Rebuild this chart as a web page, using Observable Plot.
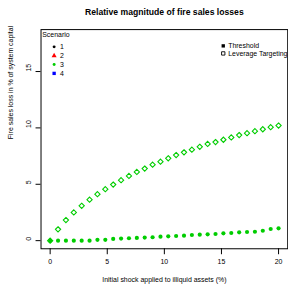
<!DOCTYPE html>
<html>
<head>
<meta charset="utf-8">
<script src="https://cdn.jsdelivr.net/npm/d3@7"></script>
<script src="https://cdn.jsdelivr.net/npm/@observablehq/plot@0.6"></script>
<style>
  html, body { margin: 0; padding: 0; background: #fff; overflow: hidden; }
  #chart { width: 288px; height: 286px; overflow: hidden; }
  svg { font-family: "Liberation Sans", Arial, Helvetica, sans-serif; }
</style>
</head>
<body>
<div id="chart"></div>
<script>
const title = "Relative magnitude of fire sales losses";
const xLabel = "Initial shock applied to illiquid assets (%)";
const yLabel = "Fire sales loss in % of system capital";
const xTicks = [0, 5, 10, 15, 20];
const yTicks = [0, 5, 10, 15];

const shock = [0, 0.69, 1.38, 2.07, 2.76, 3.45, 4.14, 4.83, 5.52, 6.21, 6.90, 7.59, 8.28, 8.97, 9.66,
  10.34, 11.03, 11.72, 12.41, 13.10, 13.79, 14.48, 15.17, 15.86, 16.55, 17.24, 17.93, 18.62, 19.31, 20];
const threshold = [0, 0, 0, 0, 0, 0, 0.07, 0.07, 0.15, 0.18, 0.21, 0.24, 0.27, 0.30, 0.35,
  0.38, 0.41, 0.44, 0.50, 0.53, 0.56, 0.59, 0.65, 0.68, 0.74, 0.77, 0.79, 0.88, 1.03, 1.09];
const leverage = [0, 1.00, 1.83, 2.50, 3.09, 3.63, 4.12, 4.56, 4.97, 5.36, 5.74, 6.09, 6.39, 6.74, 7.00,
  7.30, 7.59, 7.83, 8.07, 8.32, 8.58, 8.74, 8.95, 9.15, 9.36, 9.53, 9.71, 9.88, 10.06, 10.21];

const scenarioTitle = "Scenario";
const scenarios = ["1", "2", "3", "4"];
const scenarioColors = ["#000000", "#FF0000", "#00CD00", "#0000FF"];
const scenarioSymbols = ["circle", "triangle", "circle", "square"];
const strategies = ["Threshold", "Leverage Targeting"];

const green = "#00CD00";
const diamond = {
  draw(ctx, size) {
    const h = Math.sqrt(size / 2);
    ctx.moveTo(0, -h); ctx.lineTo(h, 0); ctx.lineTo(0, h); ctx.lineTo(-h, 0); ctx.closePath();
  }
};
const box = {
  draw(ctx, size) {
    const h = Math.sqrt(size) / 2;
    ctx.rect(-h, -h, 2 * h, 2 * h);
  }
};

const thrData = shock.map((x, i) => ({x, y: threshold[i]}));
const levData = shock.map((x, i) => ({x, y: leverage[i]}));

const fs = 7;
const marks = [
  Plot.axisX({ticks: xTicks, tickSize: 6, tickFormat: () => "", label: null, stroke: "#000"}),
  Plot.axisY({ticks: yTicks, tickSize: 5, tickFormat: () => "", label: null, stroke: "#000"}),
  Plot.text(xTicks, {x: d => d, frameAnchor: "bottom", dy: 13.3, text: d => String(d), fontSize: fs, lineAnchor: "middle", fill: "#000"}),
  Plot.text(yTicks, {y: d => d, frameAnchor: "left", dx: -12.7, rotate: -90, text: d => String(d), fontSize: fs, lineAnchor: "middle", fill: "#000"}),
  Plot.frame({stroke: "#000", strokeWidth: 1}),
  Plot.dot(levData, {x: "x", y: "y", symbol: diamond, r: 2.1, stroke: green, strokeWidth: 1.1, fill: "none"}),
  Plot.dot(thrData, {x: "x", y: "y", symbol: "circle", r: 2.1, fill: green, stroke: "none"}),
  Plot.text([title], {frameAnchor: "top", dy: -17.6, fontSize: 8.7, fontWeight: "bold", lineAnchor: "middle", fill: "#000"}),
  Plot.text([xLabel], {frameAnchor: "bottom", dy: 31, fontSize: fs, lineAnchor: "middle", fill: "#000"}),
  Plot.text([yLabel], {frameAnchor: "left", dx: -30.5, rotate: -90, fontSize: fs, lineAnchor: "middle", fill: "#000"}),
  Plot.text([scenarioTitle], {frameAnchor: "top-left", dx: 1.2, dy: 5.2, fontSize: fs, textAnchor: "start", lineAnchor: "middle", fill: "#000"}),
  ...scenarios.map((s, i) => Plot.dot([s], {frameAnchor: "top-left", dx: 13.2, dy: 17.4 + i * 8.9,
    symbol: scenarioSymbols[i], r: (i === 0 || i === 2) ? 1.5 : 1.9, fill: scenarioColors[i], stroke: "none"})),
  ...scenarios.map((s, i) => Plot.text([s], {frameAnchor: "top-left", dx: 19.2, dy: 17.4 + i * 8.9,
    fontSize: fs, textAnchor: "start", lineAnchor: "middle", fill: "#000"})),
  ...strategies.map((s, i) => Plot.dot([s], {frameAnchor: "top-left", dx: 183.5, dy: 16.4 + i * 7.6,
    symbol: box, r: 1.9, fill: i === 0 ? "#000" : "#fff", stroke: i === 0 ? "none" : "#000", strokeWidth: 0.9})),
  ...strategies.map((s, i) => Plot.text([s], {frameAnchor: "top-left", dx: 188.5, dy: 16.4 + i * 7.6,
    fontSize: fs, textAnchor: "start", lineAnchor: "middle", fill: "#000"}))
];

const chart = Plot.plot({
  width: 290,
  height: 286,
  marginLeft: 40.8,
  marginRight: 0.8,
  marginTop: 29.3,
  marginBottom: 36,
  style: {fontFamily: "'Liberation Sans', Arial, Helvetica, sans-serif", background: "#fff", overflow: "visible"},
  x: {domain: [-0.8, 20.8]},
  y: {domain: [-0.72, 18.72]},
  marks
});
document.getElementById("chart").appendChild(chart);
</script>
</body>
</html>
